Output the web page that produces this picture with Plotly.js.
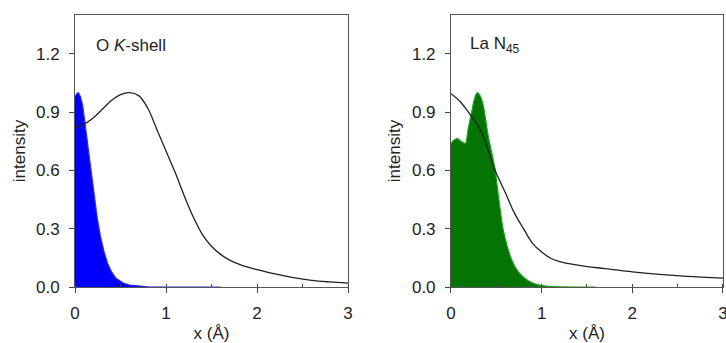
<!DOCTYPE html>
<html><head><meta charset="utf-8">
<script src="https://cdn.plot.ly/plotly-3.0.1.min.js"></script>
<style>body{margin:0;background:#fff}#c{width:726px;height:343px}</style>
</head><body><div id="c"></div>
<script>
// Left panel: O K-shell
const oFillX = [0, 0.02, 0.037, 0.06, 0.084, 0.106, 0.13, 0.15, 0.175, 0.194, 0.22, 0.245, 0.28, 0.319, 0.36, 0.40, 0.45, 0.53, 0.6, 0.7, 0.8, 1.0, 1.6];
const oFillY = [0.98, 0.995, 1.0, 0.98, 0.935, 0.866, 0.77, 0.695, 0.6, 0.524, 0.44, 0.353, 0.26, 0.181, 0.12, 0.079, 0.045, 0.02, 0.01, 0.004, 0.001, 0, 0];
const oLineX = [0, 0.1, 0.2, 0.3, 0.4, 0.5, 0.6, 0.7, 0.8, 0.9, 1.0, 1.1, 1.2, 1.3, 1.4, 1.5, 1.6, 1.7, 1.8, 1.9, 2.0, 2.2, 2.4, 2.6, 2.8, 3.0];
const oLineY = [0.818, 0.838, 0.87, 0.915, 0.96, 0.99, 1.0, 0.985, 0.92, 0.81, 0.70, 0.59, 0.47, 0.36, 0.27, 0.21, 0.168, 0.138, 0.118, 0.102, 0.09, 0.067, 0.048, 0.034, 0.026, 0.02];
// Right panel: La N45
const laFillX = [0, 0.03, 0.074, 0.11, 0.16, 0.19, 0.228, 0.26, 0.29, 0.32, 0.356, 0.41, 0.485, 0.52, 0.574, 0.62, 0.67, 0.725, 0.8, 0.868, 0.95, 1.05, 1.2, 1.6];
const laFillY = [0.738, 0.755, 0.764, 0.75, 0.738, 0.815, 0.90, 0.97, 1.0, 0.985, 0.935, 0.78, 0.61, 0.48, 0.3, 0.21, 0.14, 0.09, 0.05, 0.028, 0.012, 0.004, 0.001, 0];
const laLineX = [0, 0.1, 0.2, 0.3, 0.4, 0.45, 0.5, 0.6, 0.7, 0.8, 0.9, 1.0, 1.1, 1.2, 1.3, 1.5, 1.7, 2.0, 2.3, 2.6, 3.0];
const laLineY = [0.995, 0.955, 0.895, 0.83, 0.72, 0.645, 0.585, 0.485, 0.38, 0.3, 0.225, 0.18, 0.148, 0.13, 0.12, 0.105, 0.095, 0.078, 0.065, 0.055, 0.046];
const panelLabels = ["O <i>K</i>-shell", "La N<sub>45</sub>"];
const xTitle = "x (Å)";
const yTitle = "intensity";

const font = {family: "Liberation Sans, Arial, sans-serif", size: 17, color: "#222"};
const traces = [
  {x: oFillX, y: oFillY, xaxis: "x", yaxis: "y", type: "scatter", mode: "lines", fill: "tozeroy", fillcolor: "#0000ff", line: {color: "#2b2bff", width: 1.2}},
  {x: oLineX, y: oLineY, xaxis: "x", yaxis: "y", type: "scatter", mode: "lines", line: {color: "#222", width: 1.3, shape: "spline", smoothing: 1}},
  {x: laFillX, y: laFillY, xaxis: "x2", yaxis: "y2", type: "scatter", mode: "lines", fill: "tozeroy", fillcolor: "#047404", line: {color: "#1fa01f", width: 1.2, shape: "spline", smoothing: 0.6}},
  {x: laLineX, y: laLineY, xaxis: "x2", yaxis: "y2", type: "scatter", mode: "lines", line: {color: "#222", width: 1.3, shape: "spline", smoothing: 1}}
];
function xa(dom, anchor) {
  return {domain: dom, anchor: anchor, range: [0, 3], dtick: 1, tick0: 0, ticks: "outside", ticklen: 5, tickcolor: "#444",
    showline: true, linecolor: "#555", linewidth: 1, mirror: true, showgrid: false, zeroline: false,
    ticklabelstandoff: 6, ticklabeloverflow: "allow", tickfont: font,
    minor: {dtick: 0.5, ticks: "inside", ticklen: 3, tickcolor: "#444", showgrid: false},
    title: {text: xTitle, font: font, standoff: 4}};
}
function ya(anchor) {
  return {domain: [0, 1], anchor: anchor, range: [0, 1.4], dtick: 0.3, tick0: 0, tickformat: ".1f", ticks: "outside", ticklen: 5, tickcolor: "#444",
    showline: true, linecolor: "#555", linewidth: 1, mirror: true, showgrid: false, zeroline: false,
    ticklabelstandoff: 6, tickfont: font,
    title: {text: yTitle, font: font, standoff: 6}};
}
const layout = {
  width: 726, height: 343, showlegend: false,
  margin: {l: 75, r: 3, t: 15, b: 56},
  paper_bgcolor: "#fff", plot_bgcolor: "#fff",
  xaxis: xa([0, 0.4213], "y"), yaxis: ya("x"),
  xaxis2: xa([0.5802, 1], "y2"), yaxis2: ya("x2"),
  annotations: [
    {text: panelLabels[0], xref: "x", yref: "y", x: 0.21, y: 1.245, xanchor: "left", yanchor: "middle", showarrow: false, font: font},
    {text: panelLabels[1], xref: "x2", yref: "y2", x: 0.19, y: 1.245, xanchor: "left", yanchor: "middle", showarrow: false, font: font}
  ]
};
Plotly.newPlot("c", traces, layout, {staticPlot: true});
</script></body></html>
